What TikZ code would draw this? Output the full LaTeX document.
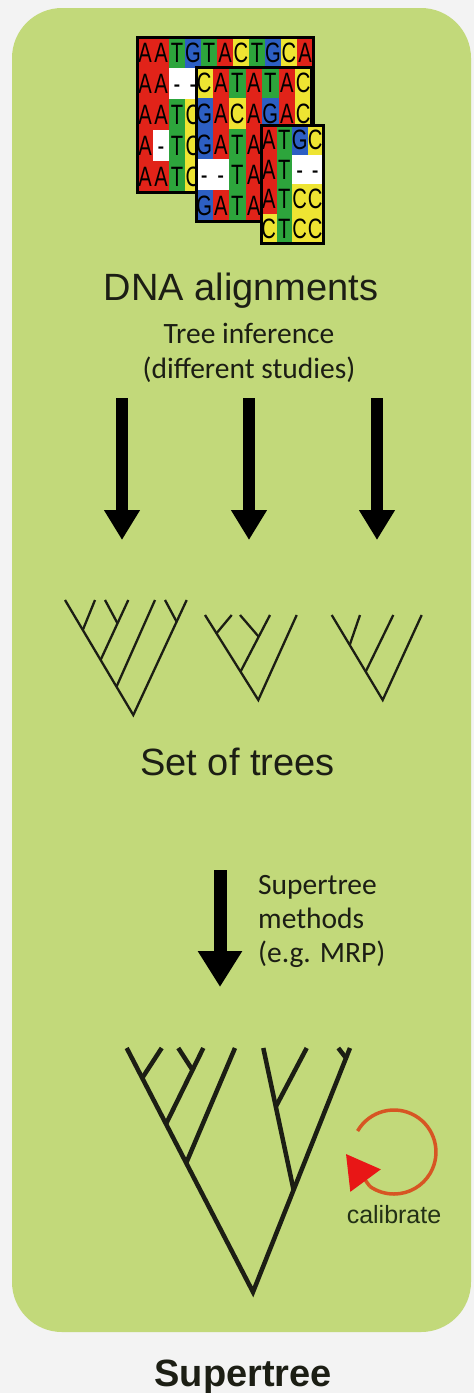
\documentclass[tikz,border=0pt]{standalone}
\usepackage{fontspec}
\usepackage{graphicx}
\setmainfont{Liberation Sans}
\newfontfamily\calibrifont{Carlito}
\usetikzlibrary{arrows.meta}

\definecolor{pagebg}{RGB}{243,243,243}
\definecolor{panelgreen}{RGB}{194,217,122}
\definecolor{ink}{RGB}{28,30,20}
\definecolor{nucA}{RGB}{225,35,25}
\definecolor{nucT}{RGB}{45,165,60}
\definecolor{nucG}{RGB}{45,95,195}
\definecolor{nucC}{RGB}{238,228,50}
\definecolor{nucN}{RGB}{255,255,255}
\definecolor{calarc}{RGB}{215,85,35}
\definecolor{calhead}{RGB}{232,22,22}
\definecolor{caltext}{RGB}{35,48,22}

% a gap cell shows a dash, the others their base letter
\newcommand\seqglyph[1]{\if N#1-\else#1\fi}

% #1 block id, #2 x0, #3 y0, #4 cell width, #5 cell height, #6 rows
\newcommand\seqblock[6]{%
  \foreach \seqr [count=\rr from 0] in {#6} {
    \foreach \ch [count=\cc from 0] in \seqr {
      \fill[nuc\ch] ({#2+\cc*#4},{#3+\rr*#5}) rectangle ++(#4,#5);
      \node[seqtxt] (#1-\rr-\cc) at ({#2+(\cc+0.5)*#4},{#3+(\rr+0.5)*#5})
        {\scalebox{0.72}[1]{\seqglyph{\ch}}};
    }
  }%
}

\tikzset{
  seqtxt/.style={inner sep=0pt, text=black, text height=20pt, text depth=0pt,
    font=\fontsize{28}{28}\selectfont},
  seqframe/.style={draw=black, line width=3pt},
  flowarrow/.style={draw=black, line width=11.5pt, -{Triangle[length=30pt,width=34pt]}},
  bigflow/.style={draw=black, line width=13pt, -{Triangle[length=36pt,width=42pt]}},
  thintree/.style={draw=ink, line width=2.3pt},
  thicktree/.style={draw=ink, line width=4.5pt},
  headline/.style={inner sep=0pt, text=ink, font=\fontsize{38}{44}\selectfont},
  smallnote/.style={inner sep=0pt, text=ink, font=\calibrifont\fontsize{29.5}{34}\selectfont},
  calibarc/.style={draw=calarc, line width=3.5pt},
}

\begin{document}
\begin{tikzpicture}[x=1pt, y=-1pt]
\useasboundingbox (0,0) rectangle (474,1393);
\fill[pagebg] (0,0) rectangle (474,1393);
\fill[panelgreen, rounded corners=50pt] (12,8) rectangle (471,1332);

% ---- sequence alignment blocks ----
\seqblock{sa}{137}{37}{16}{31}{{A,A,T,G,T,A,C,T,G,C,A},{A,A,N,N},{A,A,T,C},{A,N,T,C},{A,A,T,C}}
\draw[seqframe] (137,37) rectangle (313,192);
\seqblock{sb}{196}{67}{16.5}{30.8}{{C,A,T,A,T,A,C},{G,A,C,A,G,A,C},{G,A,T,A},{N,N,T,A},{G,A,T,A}}
\draw[seqframe] (196,67) rectangle (311.5,221);
\seqblock{sc}{261}{125}{15.5}{29.5}{{A,T,G,C},{A,T,N,N},{A,T,C,C},{C,T,C,C}}
\draw[seqframe] (261,125) rectangle (323,243);

% ---- labels ----
\node[headline, anchor=base] (dna) at (241,300) {DNA alignments};
\node[smallnote, anchor=base] (infer) at (249,343) {Tree inference};
\node[smallnote, anchor=base] (studies) at (249,378) {(different studies)};

% ---- tree inference arrows ----
\coordinate (a1s) at (122,398); \coordinate (a1e) at (122,540);
\coordinate (a2s) at (249,398); \coordinate (a2e) at (249,540);
\coordinate (a3s) at (377,398); \coordinate (a3e) at (377,540);
\draw[flowarrow] (a1s) -- (a1e);
\draw[flowarrow] (a2s) -- (a2e);
\draw[flowarrow] (a3s) -- (a3e);

% ---- set of trees: first tree ----
\coordinate (ta1) at (65,600);   \coordinate (ta2) at (95,600);
\coordinate (ta3) at (105,600);  \coordinate (ta4) at (128.3,600);
\coordinate (ta5) at (155,600);  \coordinate (ta6) at (165,600);
\coordinate (ta7) at (186.7,600);
\coordinate (ra) at (133.3,715);
\coordinate (na12) at (82.8,630);
\coordinate (na1234) at (100.6,660);
\coordinate (na12345) at (116.5,686.7);
\coordinate (na34) at (117.5,623.3);
\coordinate (na67) at (176.6,621.7);
\draw[thintree] (ta1) -- (ra) -- (ta7);
\draw[thintree] (ta2) -- (na12);
\draw[thintree] (ta4) -- (na1234);
\draw[thintree] (ta3) -- (na34);
\draw[thintree] (ta5) -- (na12345);
\draw[thintree] (ta6) -- (na67);

% second tree
\coordinate (tb1) at (205,615);   \coordinate (tb2) at (231.7,615);
\coordinate (tb3) at (240,615);   \coordinate (tb4) at (270,615);
\coordinate (tb5) at (296.7,615);
\coordinate (rb) at (258.3,700);
\coordinate (nb12) at (216.5,633.3);
\coordinate (nb1234) at (240.5,671.7);
\coordinate (nb34) at (258.7,636.7);
\draw[thintree] (tb1) -- (rb) -- (tb5);
\draw[thintree] (tb2) -- (nb12);
\draw[thintree] (tb4) -- (nb1234);
\draw[thintree] (tb3) -- (nb34);

% third tree
\coordinate (tc1) at (331.7,615); \coordinate (tc2) at (360,615);
\coordinate (tc3) at (393.3,615); \coordinate (tc4) at (421.7,615);
\coordinate (rc) at (382.7,700);
\coordinate (nc12) at (349.7,645);
\coordinate (nc123) at (365.7,671.7);
\draw[thintree] (tc1) -- (rc) -- (tc4);
\draw[thintree] (tc2) -- (nc12);
\draw[thintree] (tc3) -- (nc123);

\node[headline, anchor=base] (settrees) at (237.5,775) {Set of trees};

% ---- supertree step ----
\coordinate (mts) at (220,870); \coordinate (mte) at (220,987);
\draw[bigflow] (mts) -- (mte);
\node[smallnote, anchor=north west, align=left] (method) at (258,875)
  {Supertree\\methods\\(e.g. MRP)};

% ---- the supertree ----
\coordinate (sl1) at (126.7,1048); \coordinate (sl2) at (161.7,1048);
\coordinate (sl3) at (178.3,1048); \coordinate (sl4) at (203.3,1048);
\coordinate (sl5) at (235,1048);
\coordinate (sr1) at (263.3,1048); \coordinate (sr2) at (306.7,1048);
\coordinate (sr3) at (338.3,1048); \coordinate (sr4) at (350,1048);
\coordinate (sroot) at (253,1292);
\coordinate (sa) at (142.2,1078);
\coordinate (sb) at (166,1124);
\coordinate (sc) at (186.2,1163);
\coordinate (sd) at (192.5,1070);
\coordinate (se) at (293.6,1190);
\coordinate (sf) at (275.8,1106.7);
\coordinate (sg) at (346,1058);
\draw[thicktree] (sl1) -- (sroot) -- (sr4);
\draw[thicktree] (sl2) -- (sa);
\draw[thicktree] (sl4) -- (sb);
\draw[thicktree] (sl3) -- (sd);
\draw[thicktree] (sl5) -- (sc);
\draw[thicktree] (sr1) -- (se);
\draw[thicktree] (sr2) -- (sf);
\draw[thicktree] (sr3) -- (sg);

% ---- calibration loop ----
\coordinate (calS) at (357.6,1131);
\coordinate (calT) at (346,1154);
\draw[calibarc] (calS) arc[start angle=-150, end angle=125, radius=42] coordinate (calE);
\draw[calibarc, -{Triangle[length=33pt,width=37pt,color=calhead,fill=calhead]}] (calE) -- (calT);
\node[inner sep=0pt, text=caltext, font=\fontsize{25}{30}\selectfont, anchor=base] (calib) at (394,1223) {calibrate};

\node[inner sep=0pt, text=ink, font=\bfseries\fontsize{38}{44}\selectfont, anchor=base] (stitle) at (243.3,1386) {Supertree};
\end{tikzpicture}
\end{document}
